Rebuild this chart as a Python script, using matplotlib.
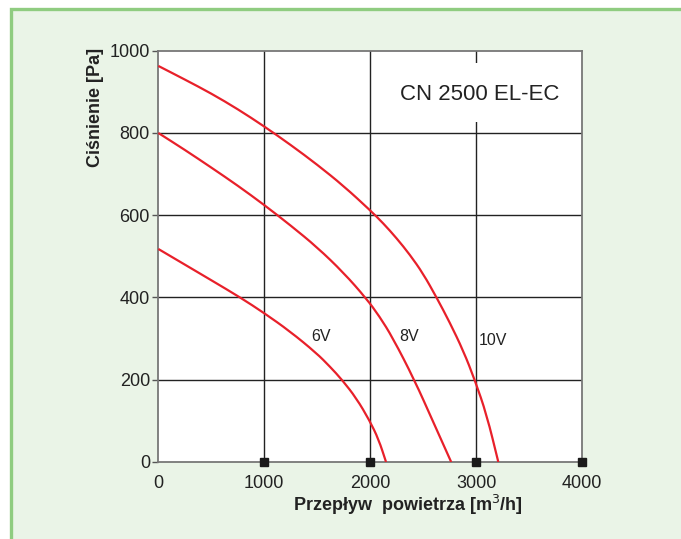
import matplotlib
matplotlib.use("Agg")
import matplotlib.pyplot as plt
from matplotlib.patches import Rectangle, PathPatch
from matplotlib.path import Path

plt.rcParams['font.family'] = ['Liberation Sans', 'DejaVu Sans']

# Fan characteristic curves, CN 2500 EL-EC (airflow m3/h vs pressure Pa)
flow_6v = [0, 250, 500, 774, 1000, 1241, 1492, 1620, 1734, 1870, 1994, 2080, 2150]
pres_6v = [518, 480, 442, 400, 362, 318, 265, 232, 200, 155, 101, 55, 0]

flow_8v = [0, 250, 500, 750, 1000, 1250, 1500, 1750, 1962, 2088, 2213, 2417, 2596, 2765]
pres_8v = [800, 759, 716, 672, 625, 575, 522, 460, 398, 354, 302, 200, 97, 0]

flow_10v = [0, 250, 500, 750, 1000, 1250, 1500, 1750, 2000, 2125, 2250, 2375, 2500,
            2627, 2750, 2880, 2987, 3100, 3210]
pres_10v = [963, 930, 896, 858, 816, 771, 723, 671, 612, 580, 544, 504, 458,
            400, 340, 270, 200, 115, 0]

curve_labels = ["6V", "8V", "10V"]
label_pos_x = [1535, 2365, 3157]
label_pos_y = [304, 304, 296]

x_ticks = [0, 1000, 2000, 3000, 4000]
y_ticks = [0, 200, 400, 600, 800, 1000]
model_name = "CN 2500 EL-EC"


def smooth_path(xs, ys):
    """Quadratic B-spline path through the midpoints of the read points."""
    pts = list(zip(xs, ys))
    verts = [pts[0]]
    codes = [Path.MOVETO]
    mid = lambda a, b: ((a[0] + b[0]) / 2, (a[1] + b[1]) / 2)
    verts.append(mid(pts[0], pts[1]))
    codes.append(Path.LINETO)
    for i in range(1, len(pts) - 1):
        verts += [pts[i], mid(pts[i], pts[i + 1])]
        codes += [Path.CURVE3, Path.CURVE3]
    verts.append(pts[-1])
    codes.append(Path.LINETO)
    return Path(verts, codes)


W, H = 681, 539
fig = plt.figure(figsize=(W / 100, H / 100), dpi=100)
fig.patch.set_facecolor('white')

# Light green panel with a green border on the left and top
panel = Rectangle((10.5 / W, -0.05), 1.1, (H - 8.5) / H + 0.05,
                  transform=fig.transFigure, facecolor='#EAF4E7',
                  edgecolor='#8FCC80', linewidth=2.4, zorder=-10)
fig.add_artist(panel)

ax = fig.add_axes([158.3 / W, 1 - 462 / H, (582 - 158.3) / W, (462 - 50.7) / H])
ax.set_zorder(5)
ax.set_facecolor('white')
ax.set_xlim(0, 4000)
ax.set_ylim(0, 1000)

for xv in x_ticks[1:-1]:
    ax.axvline(xv, color='#222222', lw=1.0, zorder=1)
for yv in y_ticks[1:-1]:
    ax.axhline(yv, color='#222222', lw=1.0, zorder=1)

for s in ax.spines.values():
    s.set_color('#777777')
    s.set_linewidth(1.3)

red = '#E8202A'
for fx, py in [(flow_6v, pres_6v), (flow_8v, pres_8v), (flow_10v, pres_10v)]:
    ax.add_patch(PathPatch(smooth_path(fx, py), facecolor='none', edgecolor=red,
                           lw=1.6, zorder=3, capstyle='butt', joinstyle='round'))

for t, lx, ly in zip(curve_labels, label_pos_x, label_pos_y):
    ax.text(lx, ly, t, fontsize=11.5, color='#222222', ha='center', va='center', zorder=4)

# white field behind the model name
ax.add_patch(Rectangle((0.70, 0.826), 0.29, 0.144, transform=ax.transAxes,
                       facecolor='white', edgecolor='none', zorder=2))
ax.text(3035, 894, model_name, fontsize=16, color='#222222', ha='center', va='center',
        zorder=5)

ax.set_xticks(x_ticks)
ax.set_yticks(y_ticks)
ax.tick_params(axis='x', length=0, pad=9, labelsize=13, labelcolor='#222222')
ax.tick_params(axis='y', length=4, width=1, color='#555555', pad=2, labelsize=13,
               labelcolor='#222222')

# square markers on the flow axis
ax.plot(x_ticks[1:], [0] * len(x_ticks[1:]), 's', color='#1a1a1a', ms=5.5,
        clip_on=False, zorder=6)

fig.text(408 / W, 1 - 505 / H, "Przepływ  powietrza [m$^3$/h]", fontsize=13,
         fontweight='bold', color='#222222', ha='center', va='center')
fig.text(95 / W, 1 - 107 / H, "Ciśnienie [Pa]", fontsize=13, fontweight='bold',
         color='#222222', ha='center', va='center', rotation=90)

fig.savefig('out.png', dpi=100, facecolor=fig.get_facecolor())
